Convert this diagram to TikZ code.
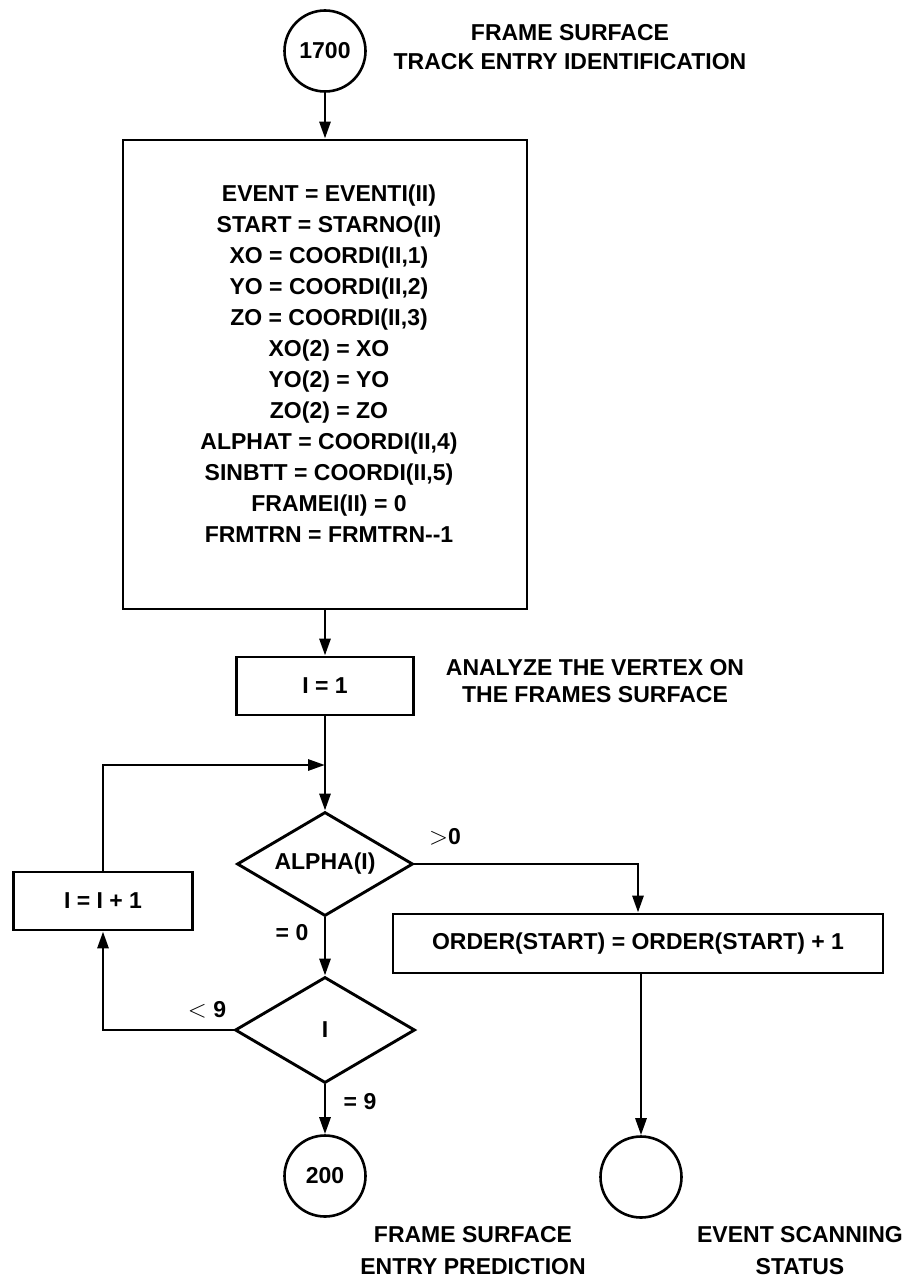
\documentclass[tikz,border=0pt]{standalone}
\usepackage{fontspec}
\setmainfont{Liberation Sans}
\usetikzlibrary{shapes.geometric,arrows.meta}
\begin{document}
\begin{tikzpicture}[x=1pt,y=-1pt,
  every node/.style={font=\fontsize{23}{29}\selectfont\bfseries},
  arr/.style={line width=2.9pt,-{Triangle[length=17pt,width=11pt]}},
  pbox/.style={draw,line width=2.9pt,rectangle,inner sep=0pt},
  decision/.style={draw,line width=2.9pt,diamond,aspect=1.7,inner sep=0pt},
  conn/.style={draw,line width=2.6pt,circle,inner sep=0pt,minimum size=81pt},
  lbl/.style={align=center}]
\fill[white] (0,0) rectangle (903,1284);
\useasboundingbox (0,0) rectangle (903,1284);

% nodes
\node[conn] (c1700) at (325,51) {1700};
\node[lbl] (t1) at (570,47) {FRAME SURFACE\\TRACK ENTRY IDENTIFICATION};

\node[pbox,minimum width=404pt,minimum height=469pt] (main) at (325,374.5) {};
\node[lbl,font=\fontsize{23}{31}\selectfont\bfseries] (maintext) at (329,364) {EVENT = EVENTI(II)\\
START = STARNO(II)\\
XO = COORDI(II,1)\\
YO = COORDI(II,2)\\
ZO = COORDI(II,3)\\
XO(2) = XO\\
YO(2) = YO\\
ZO(2) = ZO\\
ALPHAT = COORDI(II,4)\\
SINBTT = COORDI(II,5)\\
FRAMEI(II) = 0\\
FRMTRN = FRMTRN-{}-1};

\node[pbox,minimum width=177pt,minimum height=58pt] (i1) at (325,686) {I = 1};
\node[lbl,font=\fontsize{23}{27}\selectfont\bfseries] (t2) at (595,681) {ANALYZE THE VERTEX ON\\THE FRAMES SURFACE};

\coordinate (join) at (325,765);
\node[decision,minimum width=176pt,minimum height=104pt] (alpha) at (325,864) {ALPHA(I)};
\node[pbox,minimum width=179pt,minimum height=58pt] (inc) at (103,901) {I = I + 1};
\node[pbox,minimum width=490pt,minimum height=59pt] (order) at (638,943.5) {ORDER(START) = ORDER(START) + 1};
\node[decision,minimum width=180pt,minimum height=106pt] (idec) at (325,1030) {I};
\node[conn] (c200) at (325,1176) {200};
\node[conn] (cev) at (641,1177) {};

\node[lbl,font=\fontsize{23}{32}\selectfont\bfseries] (t3) at (473,1251) {FRAME SURFACE\\ENTRY PREDICTION};
\node[lbl,font=\fontsize{23}{32}\selectfont\bfseries] (t4) at (800,1251) {EVENT SCANNING\\STATUS};

% branch labels
\node (gt0) at (445,837) {$>$0};
\node (eq0) at (292,933) {= 0};
\node (lt9) at (207,1010) {$<$ 9};
\node (eq9) at (360,1102) {= 9};

% connectors
\draw[arr] (c1700) -- (main);
\draw[arr] (main) -- (i1);
\draw[arr] (i1) -- (alpha);
\draw[arr] (alpha) -- (idec);
\draw[arr] (idec) -- (c200);
\draw[arr] (alpha.east) -| (order.north);
\draw[arr] (order.south -| cev.north) -- (cev.north);
\draw[arr] (idec.west) -| (inc.south);
\draw[arr] (inc.north) |- (join);
\end{tikzpicture}
\end{document}
